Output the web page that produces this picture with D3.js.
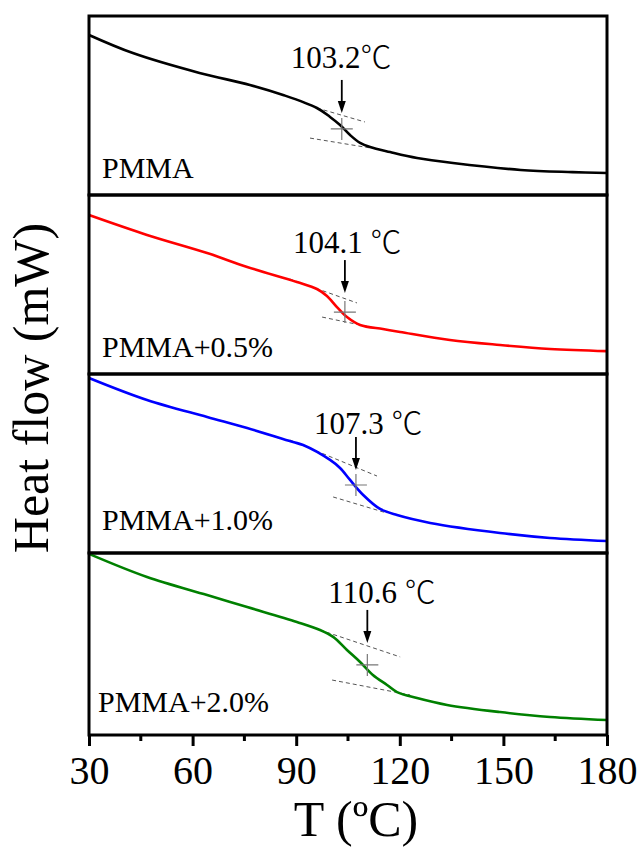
<!DOCTYPE html>
<html>
<head>
<meta charset="utf-8">
<script src="https://cdn.jsdelivr.net/npm/d3@7"></script>
<style>
  html, body { margin: 0; padding: 0; background: #fff; }
  svg { display: block; }
  text { font-family: "Liberation Serif", "Times New Roman", serif; }
</style>
</head>
<body>
<svg id="chart" width="640" height="850"></svg>
<script>
// series names and glass transition temperatures
const seriesNames = ["PMMA", "PMMA+0.5%", "PMMA+1.0%", "PMMA+2.0%"];
const tgValues = [103.2, 104.1, 107.3, 110.6];
const tgNumbers = ["103.2", "104.1 ", "107.3 ", "110.6 "];
const tgUnit = "\u2103";
// heat flow at the Tg cross (relative units, 0..10 per panel)
const tgFlow = [3.69, 3.46, 3.8, 3.85];

// DSC curves: temperature (°C) and relative heat flow
const curveT = [
  [30, 42.7, 62, 76.6, 86.2, 96, 99.8, 102.7, 105.6, 108.5, 111.4, 117.2, 125, 135.4, 155, 170, 180],
  [30, 46.8, 64.2, 75.8, 90.2, 96, 98.9, 101.8, 104.7, 108.5, 115.1, 120.1, 134.5, 149, 163.5, 180],
  [30, 46.8, 64.2, 75.8, 89.1, 92, 99.8, 102.7, 105.6, 109.4, 114.3, 119.2, 128.8, 149, 163.5, 180],
  [30, 46.8, 64.2, 75.8, 90.2, 96.9, 100.7, 104.7, 108.5, 112.2, 116.3, 119.2, 125, 133.7, 149, 163.5, 180]
];
const curveHF = [
  [8.94, 7.93, 6.82, 6.15, 5.59, 4.86, 4.36, 3.91, 3.35, 2.91, 2.68, 2.4, 2.07, 1.79, 1.4, 1.28, 1.23],
  [8.88, 7.77, 6.76, 5.98, 5.14, 4.75, 4.36, 3.74, 3.18, 2.74, 2.51, 2.35, 1.9, 1.62, 1.4, 1.28],
  [9.78, 8.55, 7.6, 6.98, 6.2, 6.03, 5.2, 4.75, 4.08, 3.24, 2.46, 2.12, 1.68, 1.12, 0.84, 0.67],
  [9.95, 8.68, 7.69, 7.03, 6.21, 5.77, 5.39, 4.67, 4.01, 3.3, 2.75, 2.36, 2.03, 1.65, 1.26, 0.99, 0.82]
];

// tangent (baseline extrapolation) lines: [[T, hf], [T, hf]]
const tangentUpper = [
  [[96, 4.86], [109.9, 4.08]],
  [[88.1, 5.31], [107.6, 3.97]],
  [[88.2, 6.31], [113.4, 4.3]],
  [[96.9, 5.77], [120.1, 4.29]]
];
const tangentLower = [
  [[94, 3.18], [111.4, 2.63]],
  [[97.5, 3.18], [112.8, 2.57]],
  [[100.7, 3.13], [116.3, 2.23]],
  [[100.4, 3.02], [123, 2.2]]
];

const xTicks = [30, 60, 90, 120, 150, 180];
const xMinorTicks = [45, 75, 105, 135, 165];

// layout
const colors = ["#000000", "#ff0000", "#0000ff", "#008000"];
const left = 89, right = 607;
const panelEdges = [16, 195, 374, 553, 735];
const tipGap = [16, 19, 15, 22];
const labelGap = [12, 7, 3, 7];
const labelDx = [-51, -52, -42, -39];
const nameBaseline = [178, 357, 530, 712];
const nameX = [102, 102, 102, 98];

const svg = d3.select("#chart");

const x = d3.scaleLinear().domain([30, 180]).range([left, right]);

const panels = svg.append("g");

seriesNames.forEach((name, i) => {
  const top = panelEdges[i], bottom = panelEdges[i + 1];
  const y = d3.scaleLinear().domain([0, 10]).range([bottom, top]);
  const g = panels.append("g");

  const pts = curveT[i].map((t, k) => [t, curveHF[i][k]]);
  const line = d3.line()
    .x((d) => x(d[0]))
    .y((d) => y(d[1]))
    .curve(d3.curveCatmullRom.alpha(0.5));

  // tangent lines
  [tangentUpper[i], tangentLower[i]].forEach((seg) => {
    g.append("path")
      .attr("d", d3.line().x((d) => x(d[0])).y((d) => y(d[1]))(seg))
      .attr("stroke", "#555")
      .attr("stroke-width", 1)
      .attr("stroke-dasharray", "4,3")
      .attr("fill", "none");
  });

  g.append("path")
    .datum(pts)
    .attr("d", line)
    .attr("fill", "none")
    .attr("stroke", colors[i])
    .attr("stroke-width", 2.6)
    .attr("stroke-linejoin", "round");

  // cross at Tg
  const cx = x(tgValues[i]), cy = y(tgFlow[i]);
  g.append("path")
    .attr("d", `M${cx - 11},${cy}H${cx + 11}M${cx},${cy - 11}V${cy + 11}`)
    .attr("stroke", "#777")
    .attr("stroke-width", 1.2)
    .attr("fill", "none");

  // arrow
  const tip = cy - tipGap[i];
  const tail = tip - 33;
  g.append("line")
    .attr("x1", cx).attr("x2", cx)
    .attr("y1", tail).attr("y2", tip - 8)
    .attr("stroke", "#000")
    .attr("stroke-width", 1.8);
  g.append("path")
    .attr("d", `M${cx - 4},${tip - 12}L${cx + 4},${tip - 12}L${cx},${tip}Z`)
    .attr("fill", "#000");

  const lbl = g.append("text")
    .attr("x", cx + labelDx[i])
    .attr("y", tail - labelGap[i])
    .attr("font-size", 31)
    .attr("fill", "#000")
    .attr("xml:space", "preserve")
    .style("white-space", "pre");
  lbl.append("tspan")
    .style("font-family", "'Liberation Serif', 'Times New Roman', serif")
    .text(tgNumbers[i]);
  lbl.append("tspan")
    .style("font-family", "'Noto Sans CJK SC', 'Liberation Serif', serif")
    .style("font-weight", 300)
    .text(tgUnit);

  g.append("text")
    .attr("x", nameX[i])
    .attr("y", nameBaseline[i])
    .attr("font-size", 30)
    .attr("fill", "#000")
    .text(name);

  // panel frame
  g.append("rect")
    .attr("x", left).attr("y", top)
    .attr("width", right - left).attr("height", bottom - top)
    .attr("fill", "none")
    .attr("stroke", "#000")
    .attr("stroke-width", 3);
});

// bottom axis
const axisG = svg.append("g")
  .attr("transform", `translate(0,${panelEdges[4]})`);

axisG.selectAll(".minor")
  .data(xMinorTicks)
  .join("line")
  .attr("x1", (d) => x(d)).attr("x2", (d) => x(d))
  .attr("y1", 0).attr("y2", 6)
  .attr("stroke", "#000")
  .attr("stroke-width", 3);

const xAxis = d3.axisBottom(x)
  .tickValues(xTicks)
  .tickSize(11)
  .tickPadding(10)
  .tickFormat(d3.format("d"));

axisG.call(xAxis)
  .call((a) => a.select(".domain").remove())
  .call((a) => a.selectAll(".tick line").attr("stroke-width", 3))
  .call((a) => a.selectAll(".tick text")
    .attr("font-family", "Liberation Serif, Times New Roman, serif")
    .attr("font-size", 40));

// axis titles
svg.append("text")
  .attr("x", 356)
  .attr("y", 836)
  .attr("text-anchor", "middle")
  .attr("font-size", 50)
  .text("T (\u00baC)");

svg.append("text")
  .attr("transform", "translate(48,388) rotate(-90)")
  .attr("text-anchor", "middle")
  .attr("font-size", 50)
  .text("Heat flow (mW)");
</script>
</body>
</html>
